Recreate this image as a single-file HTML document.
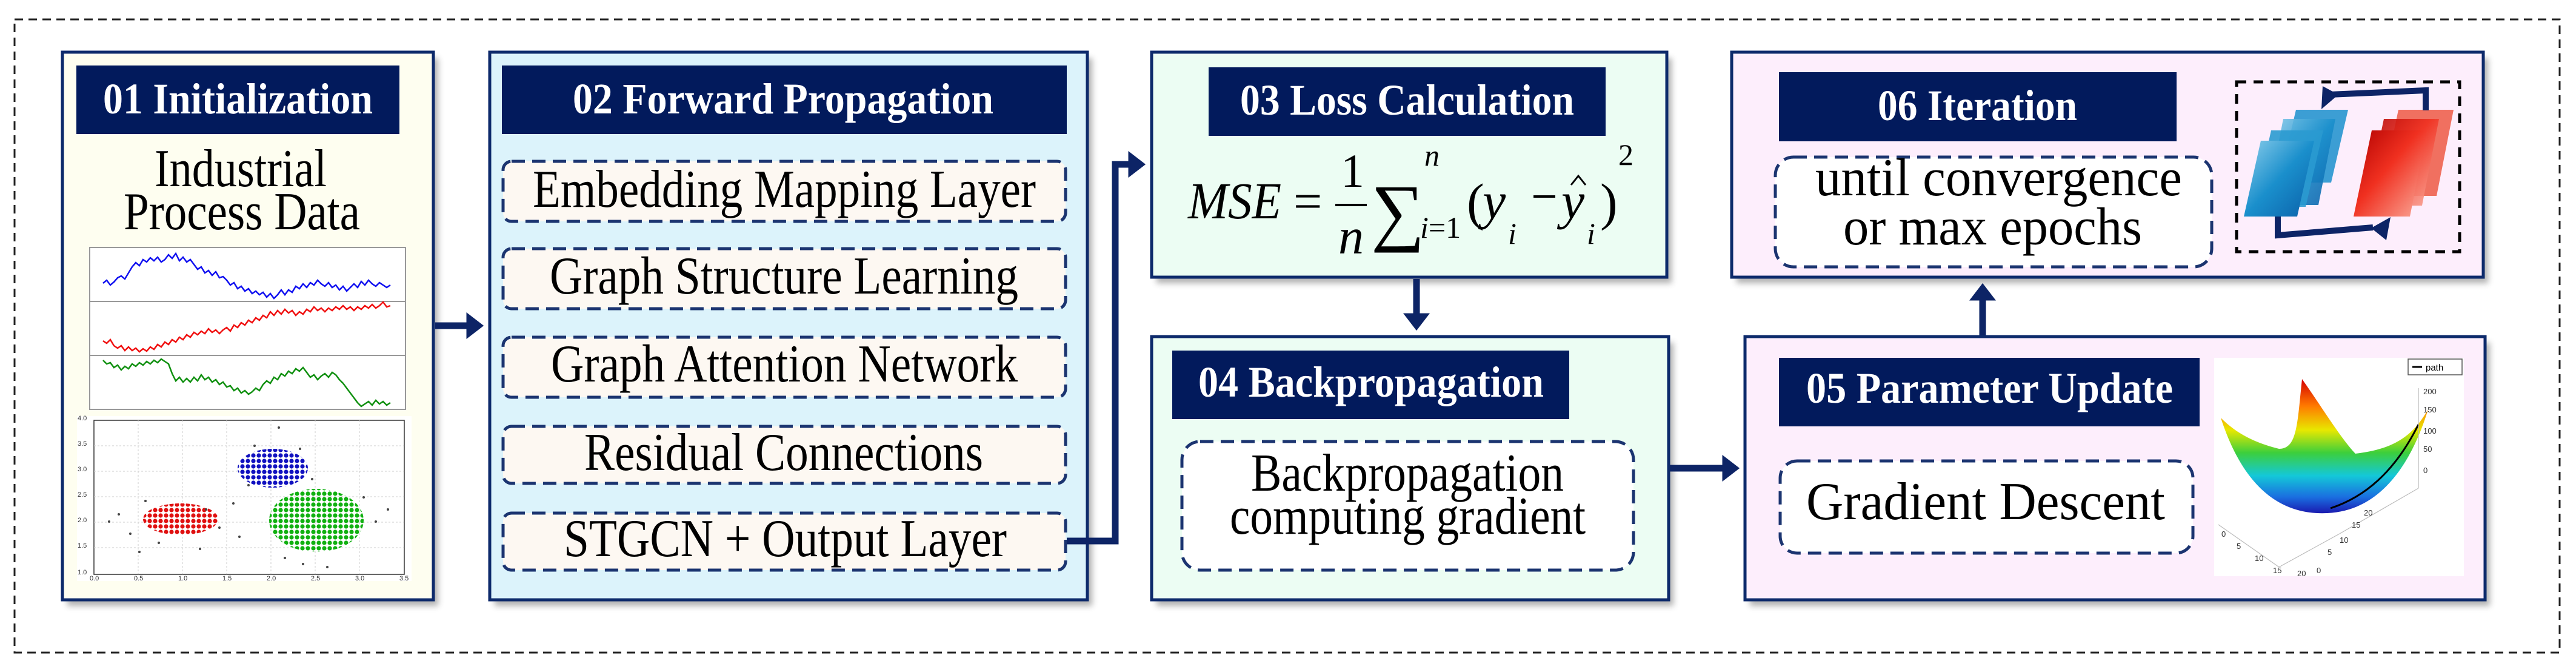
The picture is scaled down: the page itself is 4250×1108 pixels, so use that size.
<!DOCTYPE html>
<html><head><meta charset="utf-8"><style>
html,body{margin:0;padding:0;background:#fff;}
svg{display:block;}
svg text{font-family:"Liberation Serif","Times New Roman","DejaVu Serif",serif !important;}
svg text.sm{font-family:"Liberation Sans",sans-serif !important;}
</style></head><body>
<svg width="4250" height="1108" viewBox="0 0 4250 1108" xmlns="http://www.w3.org/2000/svg">
<defs>
<filter id="sh" x="-5%" y="-5%" width="110%" height="115%"><feGaussianBlur stdDeviation="5"/></filter>
<marker id="ah" markerWidth="4" markerHeight="4" refX="1.5" refY="2" orient="auto" markerUnits="strokeWidth"><path d="M0,0 L2.6,2 L0,4 Z" fill="#0d2466"/></marker>
<linearGradient id="surf" x1="0" y1="0" x2="0" y2="1">
<stop offset="0" stop-color="#d40000"/><stop offset="0.2" stop-color="#ff7a00"/><stop offset="0.38" stop-color="#e8e800"/><stop offset="0.55" stop-color="#3ccf3c"/><stop offset="0.72" stop-color="#14c8d8"/><stop offset="0.88" stop-color="#1a6ee0"/><stop offset="1" stop-color="#1a1ab0"/></linearGradient>
<linearGradient id="bl" x1="0" y1="0" x2="1" y2="1"><stop offset="0" stop-color="#8fd0ec"/><stop offset="0.5" stop-color="#1a8fcc"/><stop offset="1" stop-color="#0a5fa8"/></linearGradient>
<linearGradient id="rd" x1="0" y1="0" x2="1" y2="1"><stop offset="0" stop-color="#b00000"/><stop offset="0.45" stop-color="#f03020"/><stop offset="1" stop-color="#fbb0a0"/></linearGradient>
<pattern id="pb" width="9" height="9" patternUnits="userSpaceOnUse"><circle cx="4" cy="4" r="3.6" fill="#1010c0"/></pattern>
<pattern id="pr" width="9" height="9" patternUnits="userSpaceOnUse"><circle cx="4" cy="4" r="3.6" fill="#e01010"/></pattern>
<pattern id="pg" width="9" height="9" patternUnits="userSpaceOnUse"><circle cx="4" cy="4" r="3.6" fill="#10b010"/></pattern>
</defs>

<rect x="24" y="32" width="4199" height="1044" fill="none" stroke="#222" stroke-width="3" stroke-dasharray="14,9"/>

<g fill="#555" opacity="0.45" filter="url(#sh)">
<rect x="111" y="96" width="612" height="903"/>
<rect x="816" y="96" width="986" height="903"/>
<rect x="1908" y="96" width="850" height="371"/>
<rect x="1908" y="565" width="853" height="434"/>
<rect x="2887" y="565" width="1221" height="434"/>
<rect x="2865" y="96" width="1240" height="371"/>
</g>

<rect x="103" y="86" width="612" height="903" fill="#fefef0" stroke="#0d2a6b" stroke-width="5"/>
<rect x="808" y="86" width="986" height="903" fill="#dcf3fb" stroke="#0d2a6b" stroke-width="5"/>
<rect x="1900" y="86" width="850" height="371" fill="#ecfdf3" stroke="#0d2a6b" stroke-width="5"/>
<rect x="1900" y="555" width="853" height="434" fill="#ecfdf3" stroke="#0d2a6b" stroke-width="5"/>
<rect x="2879" y="555" width="1221" height="434" fill="#fdeefc" stroke="#0d2a6b" stroke-width="5"/>
<rect x="2857" y="86" width="1240" height="371" fill="#fdeefc" stroke="#0d2a6b" stroke-width="5"/>

<g fill="#021a5c">
<rect x="126" y="108" width="533" height="113"/>
<rect x="828" y="108" width="932" height="113"/>
<rect x="1994" y="111" width="655" height="113"/>
<rect x="1934" y="578" width="655" height="113"/>
<rect x="2935" y="590" width="694" height="113"/>
<rect x="2935" y="119" width="656" height="114"/>
</g>
<g fill="#fff" font-weight="bold" font-size="72">
<text x="170" y="187" textLength="445" lengthAdjust="spacingAndGlyphs">01 Initialization</text>
<text x="945" y="187" textLength="694" lengthAdjust="spacingAndGlyphs">02 Forward Propagation</text>
<text x="2046" y="189" textLength="551" lengthAdjust="spacingAndGlyphs">03 Loss Calculation</text>
<text x="1977" y="654" textLength="570" lengthAdjust="spacingAndGlyphs">04 Backpropagation</text>
<text x="2980" y="664" textLength="605" lengthAdjust="spacingAndGlyphs">05 Parameter Update</text>
<text x="3098" y="198" textLength="329" lengthAdjust="spacingAndGlyphs">06 Iteration</text>
</g>

<g fill="#fdf8f2" stroke="#1b3470" stroke-width="5" stroke-dasharray="22,12">
<rect x="830" y="266" width="928" height="99" rx="14"/>
<rect x="830" y="410" width="928" height="99" rx="14"/>
<rect x="830" y="556" width="928" height="99" rx="14"/>
<rect x="830" y="703" width="928" height="94" rx="14"/>
<rect x="830" y="846" width="928" height="94" rx="14"/>
</g>
<g fill="#fff" stroke="#1b3470" stroke-width="5" stroke-dasharray="22,12">
<rect x="1950" y="728" width="745" height="212" rx="30"/>
<rect x="2937" y="760" width="681" height="152" rx="28"/>
<rect x="2929" y="259" width="720" height="181" rx="30"/>
</g>

<g fill="#000" font-size="88">
<text x="255" y="307" textLength="284" lengthAdjust="spacingAndGlyphs">Industrial</text>
<text x="204" y="378" textLength="390" lengthAdjust="spacingAndGlyphs">Process Data</text>
<text x="879" y="341" textLength="830" lengthAdjust="spacingAndGlyphs">Embedding Mapping Layer</text>
<text x="907" y="484" textLength="773" lengthAdjust="spacingAndGlyphs">Graph Structure Learning</text>
<text x="909" y="629" textLength="770" lengthAdjust="spacingAndGlyphs">Graph Attention Network</text>
<text x="964" y="775" textLength="658" lengthAdjust="spacingAndGlyphs">Residual Connections</text>
<text x="930" y="917" textLength="731" lengthAdjust="spacingAndGlyphs">STGCN + Output Layer</text>
<text x="2064" y="809" textLength="516" lengthAdjust="spacingAndGlyphs">Backpropagation</text>
<text x="2029" y="880" textLength="587" lengthAdjust="spacingAndGlyphs">computing gradient</text>
<text x="2980" y="856" textLength="592" lengthAdjust="spacingAndGlyphs">Gradient Descent</text>
<text x="2995" y="322" textLength="605" lengthAdjust="spacingAndGlyphs">until convergence</text>
<text x="3041" y="403" textLength="493" lengthAdjust="spacingAndGlyphs">or max epochs</text>
</g>

<!-- formula -->
<g fill="#000">
<text x="1960" y="360" font-size="86" font-style="italic" textLength="154" lengthAdjust="spacingAndGlyphs">MSE</text>
<text x="2134" y="360" font-size="84">=</text>
<rect x="2203" y="336" width="52" height="4"/>
<text x="2212" y="308" font-size="78">1</text>
<text x="2208" y="418" font-size="84" font-style="italic">n</text>
<text x="2262" y="390" font-size="124">∑</text>
<text x="2350" y="273" font-size="50" font-style="italic">n</text>
<text x="2343" y="392" font-size="50"><tspan font-style="italic">i</tspan>=1</text>
<text x="2420" y="362" font-size="86">(</text>
<text x="2446" y="360" font-size="86" font-style="italic">y</text>
<text x="2488" y="402" font-size="50" font-style="italic">i</text>
<rect x="2530" y="322" width="36" height="4"/>
<text x="2576" y="360" font-size="86" font-style="italic">y</text>
<polyline points="2592,305 2604,290 2616,305" fill="none" stroke="#000" stroke-width="3"/>
<text x="2618" y="402" font-size="50" font-style="italic">i</text>
<text x="2640" y="362" font-size="86">)</text>
<text x="2670" y="272" font-size="50">2</text>
</g>

<!-- line charts -->
<rect x="148" y="408" width="521" height="267" fill="#fff" stroke="#999" stroke-width="2"/>
<line x1="148" y1="497" x2="669" y2="497" stroke="#999" stroke-width="2"/>
<line x1="148" y1="586" x2="669" y2="586" stroke="#999" stroke-width="2"/>
<polyline fill="none" stroke="#1010f0" stroke-width="2.5" points="170,467 176,462 182,470 188,465 194,458 200,455 206,460 212,450 218,440 224,433 230,438 236,428 242,432 248,425 254,430 260,424 266,432 272,428 278,420 284,426 290,418 296,430 302,424 308,432 314,428 320,436 326,444 332,440 338,450 344,446 350,454 356,448 362,458 368,456 374,462 380,470 386,466 392,476 398,472 404,480 410,476 416,484 422,480 428,486 434,482 440,490 446,484 452,492 458,486 464,478 470,486 476,478 482,482 488,472 494,476 500,468 506,474 512,466 518,470 524,462 530,468 536,472 542,466 548,474 554,470 560,478 566,472 572,480 578,474 584,468 590,474 596,464 602,470 608,462 614,468 620,472 626,466 632,470 638,474 644,470"/>
<polyline fill="none" stroke="#f01010" stroke-width="2.5" points="170,562 176,566 182,560 188,570 194,574 200,570 206,578 212,572 218,578 224,574 230,580 236,575 242,579 248,572 254,576 260,568 266,572 272,564 278,568 284,560 290,564 296,556 302,560 308,552 314,556 320,548 326,552 332,546 338,550 344,542 350,548 356,544 362,550 368,544 374,540 380,546 386,536 392,540 398,532 404,536 410,528 416,532 422,524 428,528 434,520 440,524 446,514 452,520 458,512 464,518 470,510 476,516 482,512 488,520 494,514 500,518 506,510 512,514 518,506 524,512 530,508 536,514 542,508 548,512 554,506 560,510 566,504 572,510 578,506 584,512 590,506 596,510 602,504 608,508 614,502 620,508 626,504 632,498 638,506 644,504"/>
<polyline fill="none" stroke="#109010" stroke-width="2.5" points="170,594 176,600 182,598 188,606 194,602 200,610 206,604 212,608 218,600 224,604 230,598 236,602 242,596 248,600 254,594 260,598 266,592 272,596 278,600 284,616 290,628 296,622 302,630 308,624 314,630 320,622 326,628 332,618 338,626 344,622 350,630 356,626 362,634 368,630 374,638 380,636 386,644 392,640 398,648 404,644 410,650 416,646 422,640 428,644 434,634 440,628 446,632 452,622 458,626 464,616 470,620 476,612 482,616 488,608 494,612 500,606 506,614 512,622 518,618 524,626 530,620 536,616 542,622 548,614 554,618 560,626 566,632 572,640 578,648 584,656 590,664 596,670 602,666 608,662 614,668 620,660 626,666 632,662 638,668 644,664"/>

<!-- scatter -->
<rect x="127" y="686" width="552" height="272" fill="#fff"/>
<rect x="155" y="693" width="512" height="254" fill="none" stroke="#333" stroke-width="1.5"/>
<g stroke="#ccc" stroke-width="1" stroke-dasharray="3,3">
<line x1="228" y1="693" x2="228" y2="947"/><line x1="301" y1="693" x2="301" y2="947"/><line x1="374" y1="693" x2="374" y2="947"/><line x1="447" y1="693" x2="447" y2="947"/><line x1="520" y1="693" x2="520" y2="947"/><line x1="593" y1="693" x2="593" y2="947"/>
<line x1="155" y1="735" x2="667" y2="735"/><line x1="155" y1="777" x2="667" y2="777"/><line x1="155" y1="819" x2="667" y2="819"/><line x1="155" y1="861" x2="667" y2="861"/><line x1="155" y1="903" x2="667" y2="903"/>
</g>
<ellipse cx="450" cy="772" rx="58" ry="32" fill="url(#pb)"/>
<ellipse cx="298" cy="856" rx="62" ry="26" fill="url(#pr)"/>
<ellipse cx="522" cy="858" rx="78" ry="52" fill="url(#pg)"/>
<g fill="#444">
<circle cx="180" cy="860" r="2"/><circle cx="196" cy="848" r="2"/><circle cx="215" cy="880" r="2"/><circle cx="240" cy="826" r="2"/><circle cx="262" cy="895" r="2"/><circle cx="340" cy="840" r="2"/><circle cx="362" cy="870" r="2"/><circle cx="385" cy="830" r="2"/><circle cx="395" cy="885" r="2"/><circle cx="420" cy="735" r="2"/><circle cx="460" cy="705" r="2"/><circle cx="495" cy="740" r="2"/><circle cx="515" cy="790" r="2"/><circle cx="600" cy="820" r="2"/><circle cx="620" cy="860" r="2"/><circle cx="640" cy="840" r="2"/><circle cx="500" cy="930" r="2"/><circle cx="470" cy="920" r="2"/><circle cx="540" cy="935" r="2"/><circle cx="330" cy="905" r="2"/><circle cx="230" cy="910" r="2"/><circle cx="410" cy="800" r="2"/>
</g>
<g font-size="11" fill="#333">
<text class="sm" x="128" y="693">4.0</text><text class="sm" x="128" y="735">3.5</text><text class="sm" x="128" y="777">3.0</text><text class="sm" x="128" y="819">2.5</text><text class="sm" x="128" y="861">2.0</text><text class="sm" x="128" y="903">1.5</text><text class="sm" x="128" y="947">1.0</text>
<text class="sm" x="148" y="957">0.0</text><text class="sm" x="221" y="957">0.5</text><text class="sm" x="294" y="957">1.0</text><text class="sm" x="367" y="957">1.5</text><text class="sm" x="440" y="957">2.0</text><text class="sm" x="513" y="957">2.5</text><text class="sm" x="586" y="957">3.0</text><text class="sm" x="659" y="957">3.5</text>
</g>

<!-- surface plot -->
<rect x="3653" y="590" width="412" height="360" fill="#fff"/>
<rect x="3973" y="592" width="89" height="26" fill="#fff" stroke="#555" stroke-width="1.5"/>
<line x1="3980" y1="605" x2="3996" y2="605" stroke="#000" stroke-width="3"/>
<text class="sm" x="4002" y="611" font-size="15" fill="#000">path</text>
<path d="M3664,689 C3700,800 3760,850 3840,846 C3930,842 3980,760 4006,675 C3980,720 3950,740 3886,748 C3860,720 3830,670 3798,625 C3790,700 3790,740 3760,740 C3720,730 3690,715 3664,689 Z" fill="url(#surf)"/>
<path d="M3845,838 C3900,820 3950,780 3990,700" fill="none" stroke="#000" stroke-width="3"/>
<g stroke="#bbb" stroke-width="1.2" fill="none"><line x1="3660" y1="865" x2="3760" y2="935"/><line x1="3760" y1="935" x2="3860" y2="880"/><line x1="3860" y1="880" x2="3990" y2="805"/><line x1="3990" y1="805" x2="3990" y2="640"/></g>
<g font-size="13" fill="#333"><text class="sm" x="3665" y="885">0</text><text class="sm" x="3690" y="905">5</text><text class="sm" x="3720" y="925">10</text><text class="sm" x="3750" y="945">15</text><text class="sm" x="3790" y="950">20</text><text class="sm" x="3822" y="945">0</text><text class="sm" x="3840" y="915">5</text><text class="sm" x="3860" y="895">10</text><text class="sm" x="3880" y="870">15</text><text class="sm" x="3900" y="850">20</text><text class="sm" x="3998" y="780">0</text><text class="sm" x="3998" y="745">50</text><text class="sm" x="3998" y="715">100</text><text class="sm" x="3998" y="680">150</text><text class="sm" x="3998" y="650">200</text></g>

<!-- iteration image -->
<rect x="3690" y="135" width="368" height="280" fill="none" stroke="#000" stroke-width="5" stroke-dasharray="16,12"/>
<polygon points="3788,181 3874,181 3846,301 3760,301" fill="#1a8fcc" opacity="0.85"/>
<polygon points="3767,196 3853,196 3825,338 3739,338" fill="url(#bl)" opacity="0.9"/>
<polygon points="3747,215 3833,215 3804,341 3719,341" fill="#2a9ad0" opacity="0.9"/>
<polygon points="3730,232 3818,232 3790,357 3702,357" fill="url(#bl)"/>
<polygon points="3957,181 4048,181 4020,323 3927,323" fill="#f07060"/>
<polygon points="3933,196 4024,196 3996,339 3903,339" fill="url(#rd)" opacity="0.9"/>
<polygon points="3913,215 4004,215 3976,357 3883,357" fill="url(#rd)"/>
<polyline points="3843,156 4002,149 4002,182" fill="none" stroke="#0d2466" stroke-width="10"/>
<polygon points="3832,142 3858,156 3830,180" fill="#0d2466"/>
<polyline points="3758,357 3758,388 3915,375" fill="none" stroke="#0d2466" stroke-width="10"/>
<polygon points="3944,358 3937,396 3912,376" fill="#0d2466"/>

<!-- connectors -->
<g stroke="#0d2466" stroke-width="11" fill="none">
<line x1="718" y1="537" x2="786" y2="537" marker-end="url(#ah)"/>
<polyline points="1760,892 1840,892 1840,271 1878,271" marker-end="url(#ah)"/>
<line x1="2337" y1="460" x2="2337" y2="533" marker-end="url(#ah)"/>
<line x1="2755" y1="772" x2="2858" y2="772" marker-end="url(#ah)"/>
<line x1="3271" y1="553" x2="3271" y2="479" marker-end="url(#ah)"/>
</g>
</svg>
</body></html>
